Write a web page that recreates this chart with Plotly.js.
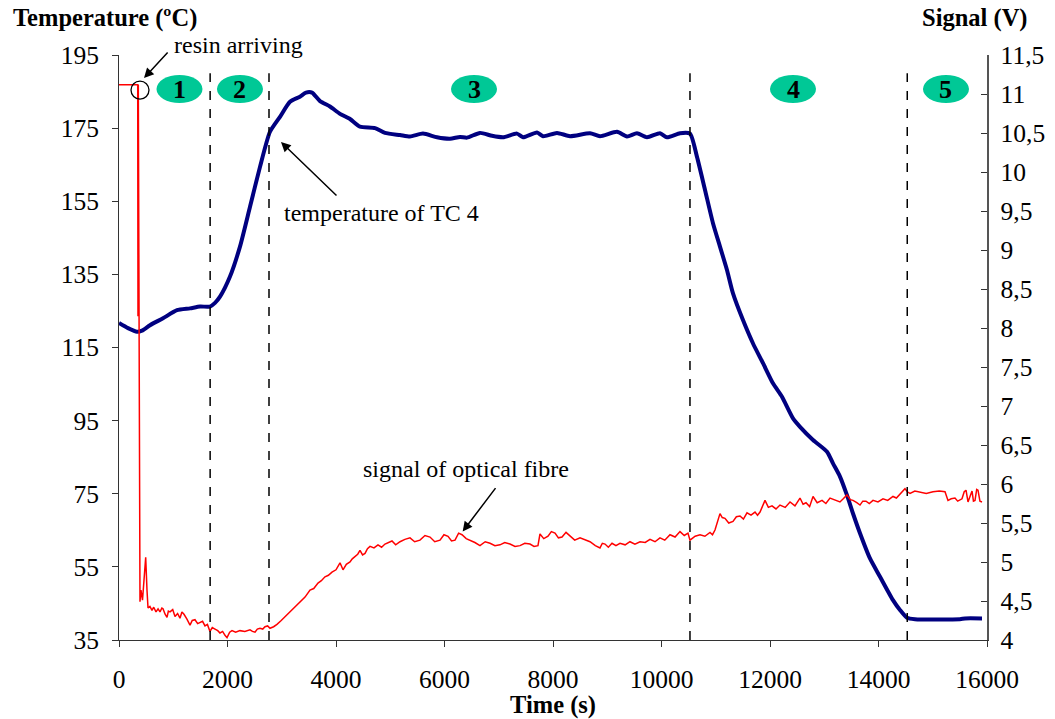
<!DOCTYPE html>
<html>
<head>
<meta charset="utf-8">
<script src="https://cdn.plot.ly/plotly-3.0.1.min.js"></script>
<style>html,body{margin:0;padding:0;background:#fff;}#chart{width:1055px;height:719px;}</style>
</head>
<body>
<div id="chart"></div>
<script>
// Temperature of thermocouple TC 4 (left axis, °C)
const timeTC4 = [0,166,332,424,571,811,1069,1309,1493,1677,1770,1862,2046,2230,2415,2599,2783,2968,3152,3336,3447,3558,3705,3889,4074,4258,4442,4719,4903,5180,
  5364,5604,5862,6101,6286,6415,6654,6876,7078,7336,7447,7705,7816,8074,8313,8682,8866,9180,9364,9548,9733,9972,10101,10341,10525,
  10653,10802,10949,11078,11207,11318,11502,11687,11871,12055,12221,12424,12553,12793,13051,13161,13290,13419,13530,13659,13843,14028,14267,14396,14525,14673,15502,15594,15908];
const tempTC4 = [121.7,120.3,119.3,119.6,121.1,123.0,125.2,125.7,126.2,126.2,127.2,128.9,134.4,142.6,153.5,164.4,174.0,178.1,182.2,183.6,184.7,184.7,182.4,180.9,178.9,177.5,175.4,175.0,173.7,173.1,
  172.7,173.5,172.5,172.1,172.6,172.4,173.7,172.9,172.5,173.5,172.5,173.8,172.8,173.7,172.8,173.6,172.8,174.0,172.7,173.6,172.5,173.6,172.5,173.6,173.5,
  167.2,158.1,149.0,142.6,136.2,129.8,122.5,116.1,110.7,105.2,101.5,95.6,93.3,89.7,86.5,83.3,79.7,74.6,69.6,64.2,57.3,52.3,45.9,43.2,41.1,40.7,40.7,40.9,40.9];

// Signal of optical fibre (right axis, V)
const timeSignal = [0,345,350,356,387,405,433,461,492,516,
  535,570,608,640,682,720,756,790,811,850,885,910,940,990,1032,1080,1124,1160,1198,1250,1309,1350,1401,1450,1493,1540,1585,1630,1677,1720,1770,1820,1862,1910,1954,1991,2040,2083,2150,2230,2320,2415,2460,2507,2550,2599,2650,2691,2740,2783,
  2850,2912,2990,3060,3120,3189,3260,3336,3429,3521,3590,3668,3730,3797,3860,3926,4000,
  4074,4110,4129,4190,4258,4300,4350,4400,4442,4490,4535,4580,4627,4700,4774,4840,4903,4960,5032,5100,5180,5270,5364,5450,5548,5640,5733,5820,5917,5990,6065,6130,6194,6260,6323,6400,6470,6560,6654,6750,6839,6930,7023,7110,7207,7300,7392,7480,7576,7650,7723,
  7760,7830,7908,7970,8037,8100,8166,8240,8313,8400,8498,8590,8682,8780,8866,8910,8959,9020,9088,9160,9235,9330,9419,9510,9604,9700,9788,9880,9972,10060,10157,10250,10341,10420,10488,
  10525,10620,10710,10800,10894,10940,10986,11078,11120,11170,11240,11318,11380,11447,11510,11576,11650,11724,11770,11816,11908,11970,12037,12110,12184,12280,12369,12460,12553,12610,12664,12730,12793,12870,12959,13030,13106,13200,13290,13350,13419,13480,13530,13600,13659,13710,13770,13830,13899,13990,14083,14170,14267,14330,14396,14488,
  14530,14581,14670,14765,14880,15005,15120,15226,15281,15340,15410,15460,15539,15580,15613,15650,15690,15724,15750,15779,15810,15834,15870,15908];
const signalV = [11.12,11.12,8.15,11.12,4.49,4.64,4.51,4.77,5.06,4.64,
  4.41,4.43,4.38,4.42,4.36,4.40,4.36,4.41,4.40,4.33,4.29,4.37,4.36,4.39,4.30,4.34,4.28,4.36,4.33,4.27,4.19,4.25,4.26,4.21,4.22,4.24,4.18,4.20,4.11,4.16,4.14,4.12,4.09,4.11,4.06,4.03,4.10,4.12,4.10,4.12,4.11,4.13,4.11,4.10,4.14,4.15,4.14,4.17,4.18,4.15,
  4.17,4.20,4.25,4.30,4.33,4.38,4.43,4.49,4.55,4.64,4.66,4.73,4.76,4.81,4.83,4.87,4.90,
  4.99,4.93,4.90,4.97,5.00,5.04,5.07,5.10,5.15,5.09,5.11,5.17,5.20,5.18,5.22,5.19,5.23,5.25,5.27,5.22,5.26,5.29,5.31,5.26,5.28,5.34,5.32,5.26,5.28,5.35,5.33,5.27,5.28,5.37,5.35,5.30,5.28,5.25,5.21,5.26,5.24,5.21,5.22,5.25,5.23,5.20,5.21,5.24,5.23,5.20,5.21,
  5.36,5.30,5.33,5.39,5.37,5.31,5.32,5.38,5.33,5.28,5.31,5.29,5.26,5.21,5.18,5.24,5.23,5.19,5.24,5.21,5.24,5.22,5.26,5.23,5.26,5.25,5.29,5.26,5.31,5.28,5.35,5.32,5.39,5.34,5.37,
  5.28,5.33,5.35,5.33,5.38,5.35,5.41,5.62,5.57,5.56,5.50,5.52,5.58,5.59,5.55,5.63,5.60,5.64,5.60,5.64,5.79,5.70,5.72,5.68,5.73,5.70,5.77,5.72,5.82,5.74,5.76,5.71,5.84,5.76,5.79,5.75,5.82,5.79,5.77,5.81,5.86,5.80,5.79,5.76,5.73,5.78,5.78,5.75,5.79,5.77,5.81,5.79,5.84,5.82,5.87,5.94,
  5.90,5.88,5.91,5.90,5.88,5.90,5.91,5.90,5.79,5.81,5.82,5.78,5.81,5.90,5.92,5.77,5.86,5.91,5.78,5.79,5.93,5.92,5.78,5.77];

// Phase boundaries (s) and phase labels
const phaseBounds = [1680, 2765, 10525, 14530];
const phaseLabels = ['1','2','3','4','5'];
const phaseCenters = [1115, 2230, 6544, 12424, 15244];
const xTicks = [0,2000,4000,6000,8000,10000,12000,14000,16000];

const FONT = 'Liberation Serif, Times New Roman, serif';

const traces = [
  {x: timeTC4, y: tempTC4, type:'scatter', mode:'lines', line:{color:'#000080', width:4, shape:'spline', smoothing:0.6}, yaxis:'y', hoverinfo:'skip', name:'temperature of TC 4'},
  {x: timeSignal, y: signalV, type:'scatter', mode:'lines', line:{color:'#FF0000', width:1.5}, yaxis:'y2', hoverinfo:'skip', name:'signal of optical fibre'}
];

const shapes = [];
phaseBounds.forEach(b => shapes.push({type:'line', xref:'x', yref:'paper', x0:b, x1:b, y0:0, y1:0.969, line:{color:'#000', width:1.5, dash:'dash'}}));
phaseCenters.forEach(c => shapes.push({type:'circle', xref:'x', yref:'y', xsizemode:'pixel', ysizemode:'pixel', xanchor:c, yanchor:185.7, x0:-23, x1:23, y0:-14, y1:14, fillcolor:'#00C896', line:{width:0}}));
shapes.push({type:'circle', xref:'x', yref:'y', xsizemode:'pixel', ysizemode:'pixel', xanchor:387, yanchor:185.4, x0:-9, x1:9, y0:-9, y1:9, line:{color:'#000', width:1.3}});

const annotations = [];
phaseCenters.forEach((c,i) => annotations.push({x:c, y:185.7, xref:'x', yref:'y', text:'<b>'+phaseLabels[i]+'</b>', showarrow:false, font:{family:FONT, size:26, color:'#000'}}));
annotations.push(
  {xref:'paper', yref:'paper', x:-0.124, y:1.064, xanchor:'left', yanchor:'middle', text:'<b>Temperature (ºC)</b>', showarrow:false, font:{family:FONT, size:24.5, color:'#000'}},
  {xref:'paper', yref:'paper', x:1.05, y:1.064, xanchor:'right', yanchor:'middle', text:'<b>Signal (V)</b>', showarrow:false, font:{family:FONT, size:24.5, color:'#000'}},
  {x:461, y:188.7, xref:'x', yref:'y', ax:25, ay:-27, text:'', showarrow:true, arrowhead:2, arrowsize:1.3, arrowwidth:1.5, arrowcolor:'#000'},
  {x:977, y:195, xref:'x', yref:'y', xanchor:'left', yshift:10, text:'resin arriving', showarrow:false, font:{family:FONT, size:24, color:'#000'}},
  {x:2986, y:171.2, xref:'x', yref:'y', ax:57, ay:55, text:'', showarrow:true, arrowhead:2, arrowsize:1.3, arrowwidth:1.5, arrowcolor:'#000'},
  {x:4830, y:151.9, xref:'x', yref:'y', text:'temperature of TC 4', showarrow:false, font:{family:FONT, size:24, color:'#000'}},
  {x:6335, y:5.39, xref:'x', yref:'y2', ax:34, ay:-45, text:'', showarrow:true, arrowhead:2, arrowsize:1.3, arrowwidth:1.5, arrowcolor:'#000'},
  {x:6395, y:6.19, xref:'x', yref:'y2', text:'signal of optical fibre', showarrow:false, font:{family:FONT, size:24, color:'#000'}}
);

const layout = {
  width:1055, height:719,
  margin:{l:119, r:68, t:55, b:79},
  paper_bgcolor:'#fff', plot_bgcolor:'#fff',
  showlegend:false,
  separators:', ',
  font:{family:FONT, size:25, color:'#000'},
  xaxis:{range:[0,16000], tickvals:xTicks, tickformat:'d', showgrid:false, zeroline:false, showline:true, linecolor:'#333', linewidth:1,
         ticks:'outside', ticklen:6, tickcolor:'#333', tickfont:{family:FONT, size:25.5}, ticklabelstandoff:10,
         title:{text:'<b>Time (s)</b>', font:{family:FONT, size:24.5}, standoff:6}},
  yaxis:{range:[35,195], dtick:20, tick0:35, showgrid:false, zeroline:false, showline:true, linecolor:'#333', linewidth:1,
         ticks:'outside', ticklen:6, tickcolor:'#333', tickfont:{family:FONT, size:25.5}, ticklabelstandoff:8},
  yaxis2:{range:[4,11.5], dtick:0.5, tick0:4, overlaying:'y', side:'right', showgrid:false, zeroline:false, showline:true, linecolor:'#555', linewidth:1.5,
          ticks:'inside', ticklen:6, tickcolor:'#333', tickfont:{family:FONT, size:25.5}, ticklabelstandoff:7},
  shapes:shapes,
  annotations:annotations
};

Plotly.newPlot('chart', traces, layout, {displayModeBar:false, staticPlot:true});
</script>
</body>
</html>
